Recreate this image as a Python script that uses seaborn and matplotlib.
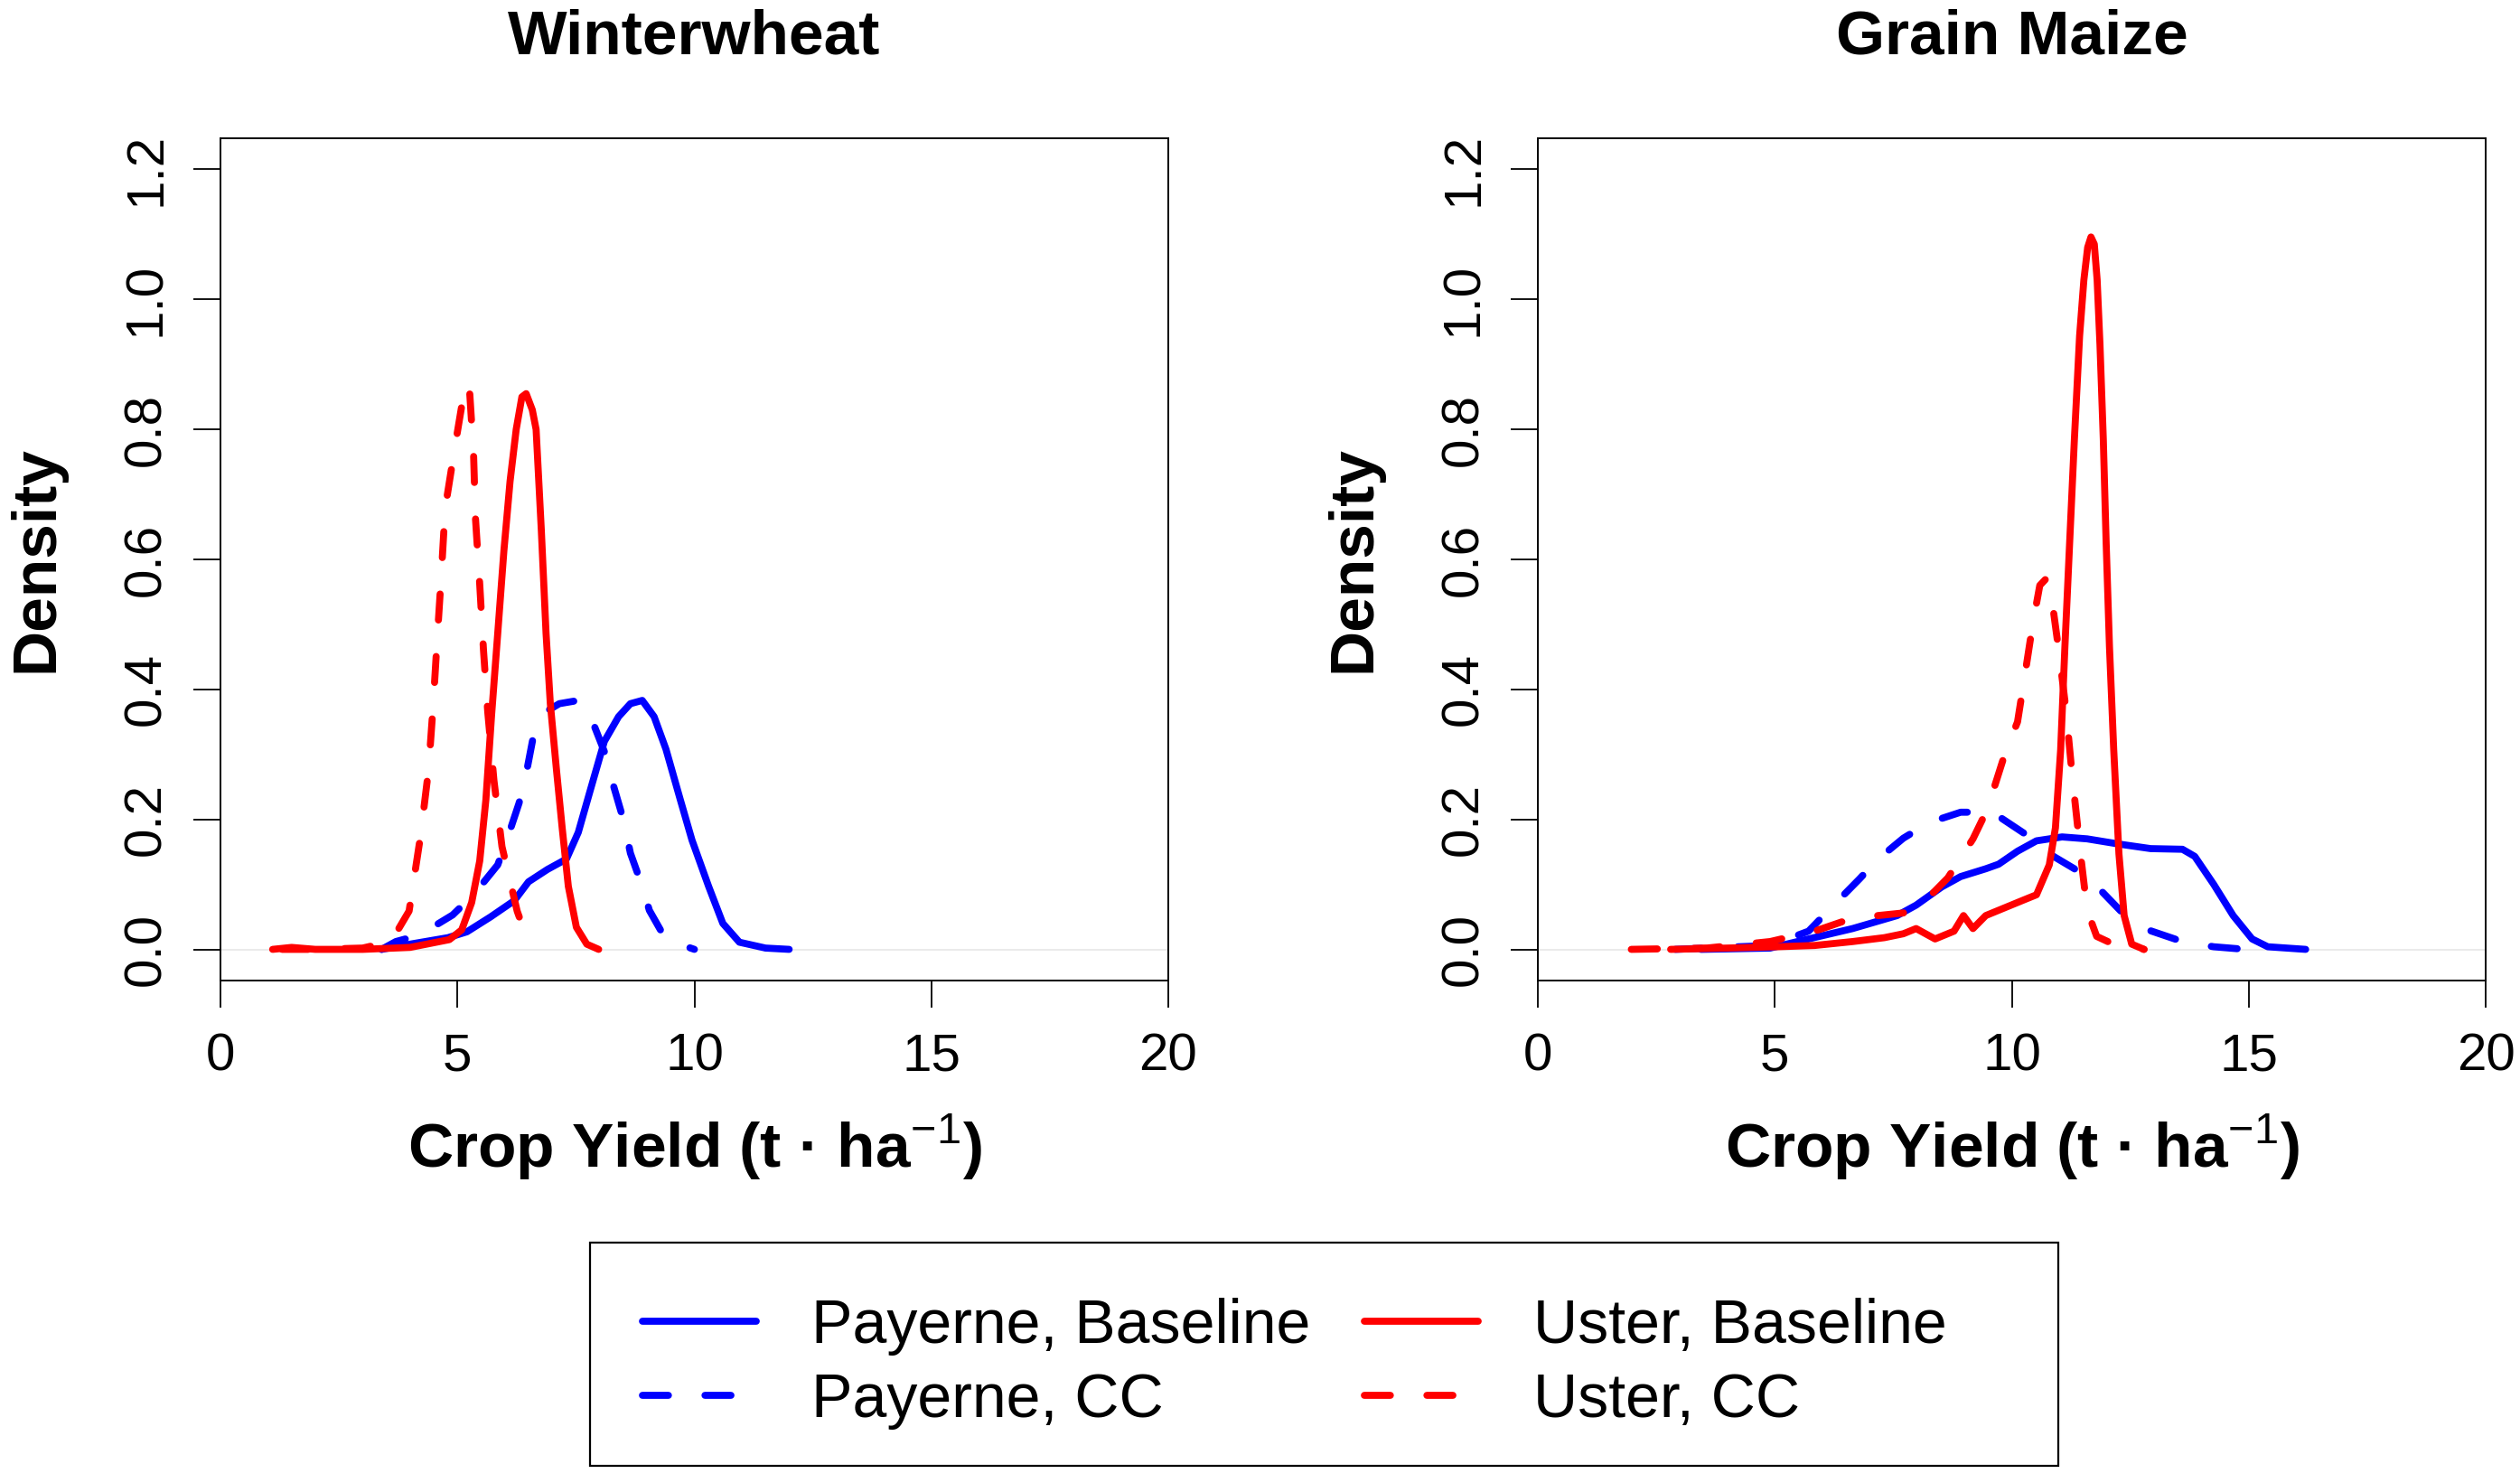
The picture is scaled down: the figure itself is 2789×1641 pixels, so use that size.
import numpy as np
import pandas as pd
import matplotlib
matplotlib.use("Agg")
import matplotlib.pyplot as plt
import seaborn as sns
from matplotlib.lines import Line2D
from matplotlib.patches import Rectangle

# Density curves (yield in t/ha, density)

# Winterwheat
ww_pay_base_x = [3.4, 4.0, 4.8, 5.2, 5.7, 6.2, 6.5, 6.9, 7.3, 7.55, 7.8, 8.1, 8.4, 8.65, 8.9,
                 9.15, 9.4, 9.7, 9.95, 10.3, 10.6, 10.95, 11.5, 12.0]
ww_pay_base_y = [0.0, 0.008, 0.018, 0.027, 0.05, 0.075, 0.104, 0.123, 0.139, 0.18, 0.244, 0.32,
                 0.358, 0.378, 0.383, 0.358, 0.308, 0.231, 0.168, 0.097, 0.04, 0.011, 0.002, 0.0]

ww_pay_cc_x = [3.4, 3.7, 4.2, 4.9, 5.35, 5.85, 6.05, 6.3, 6.45, 6.6, 6.85, 7.15, 7.55, 7.8,
               8.15, 8.3, 8.5, 8.65, 8.9, 9.05, 9.4, 10.0]
ww_pay_cc_y = [0.0, 0.012, 0.022, 0.053, 0.085, 0.13, 0.17, 0.225, 0.27, 0.327, 0.365, 0.378,
               0.383, 0.36, 0.295, 0.25, 0.2, 0.148, 0.097, 0.06, 0.015, 0.0]

ww_ust_base_x = [1.1, 1.5, 2.0, 3.0, 4.0, 4.83, 5.09, 5.3, 5.47, 5.6, 5.72, 5.85, 5.98, 6.11,
                 6.24, 6.36, 6.45, 6.58, 6.66, 6.77, 6.87, 6.96, 7.09, 7.21, 7.34, 7.51, 7.73, 7.98]
ww_ust_base_y = [0.0, 0.003, 0.0, 0.0, 0.003, 0.015, 0.03, 0.072, 0.136, 0.23, 0.36, 0.486,
                 0.613, 0.72, 0.80, 0.85, 0.855, 0.83, 0.80, 0.645, 0.486, 0.378, 0.276, 0.187,
                 0.097, 0.034, 0.008, 0.0]

ww_ust_cc_x = [1.3, 2.0, 3.0, 3.6, 3.98, 4.22, 4.39, 4.49, 4.57, 4.66, 4.74, 4.96, 5.17, 5.26,
               5.34, 5.38, 5.47, 5.55, 5.64, 5.77, 5.94, 6.26, 6.45]
ww_ust_cc_y = [0.0, 0.0, 0.002, 0.012, 0.059, 0.174, 0.276, 0.378, 0.474, 0.576, 0.678, 0.779,
               0.871, 0.855, 0.763, 0.664, 0.562, 0.46, 0.365, 0.26, 0.158, 0.059, 0.02]

# Grain Maize
gm_pay_base_x = [3.44, 4.9, 5.71, 6.64, 7.58, 7.98, 8.52, 8.92, 9.45, 9.72, 10.12, 10.52, 11.06,
                 11.59, 12.26, 12.93, 13.6, 13.86, 14.26, 14.67, 15.07, 15.4, 16.2]
gm_pay_base_y = [0.0, 0.002, 0.016, 0.032, 0.052, 0.068, 0.096, 0.112, 0.124, 0.131, 0.151,
                 0.167, 0.173, 0.17, 0.162, 0.155, 0.154, 0.143, 0.10, 0.052, 0.016, 0.004, 0.0]

gm_pay_cc_x = [2.9, 4.9, 5.71, 6.24, 6.78, 7.18, 7.71, 8.25, 8.92, 9.59, 10.25, 10.79, 11.32,
               11.86, 12.39, 12.79, 13.6, 14.26, 14.93]
gm_pay_cc_y = [0.0, 0.006, 0.028, 0.068, 0.108, 0.139, 0.171, 0.195, 0.211, 0.211, 0.179, 0.147,
               0.124, 0.092, 0.052, 0.032, 0.012, 0.004, 0.0]

gm_ust_base_x = [2.8, 4.0, 5.04, 5.84, 6.64, 7.31, 7.71, 7.98, 8.38, 8.78, 8.98, 9.18, 9.45,
                 9.85, 10.25, 10.52, 10.79, 10.92, 11.03, 11.12, 11.22, 11.32, 11.43, 11.52,
                 11.6, 11.67, 11.74, 11.8, 11.86, 11.93, 11.99, 12.06, 12.15, 12.26, 12.37,
                 12.53, 12.79]
gm_ust_base_y = [0.0, 0.002, 0.004, 0.006, 0.012, 0.018, 0.024, 0.032, 0.016, 0.028, 0.052,
                 0.032, 0.052, 0.064, 0.076, 0.084, 0.13, 0.187, 0.307, 0.466, 0.626, 0.785,
                 0.944, 1.03, 1.08, 1.096, 1.085, 1.03, 0.93, 0.785, 0.626, 0.466, 0.307,
                 0.147, 0.052, 0.008, 0.0]

gm_ust_cc_x = [1.97, 3.57, 4.9, 5.84, 6.64, 7.71, 8.11, 8.65, 9.18, 9.48, 9.85, 10.12, 10.25,
               10.44, 10.59, 10.72, 10.86, 10.99, 11.14, 11.27, 11.46, 11.59, 11.79, 12.26, 12.79]
gm_ust_cc_y = [0.0, 0.002, 0.012, 0.028, 0.048, 0.056, 0.07, 0.11, 0.17, 0.215, 0.3, 0.35,
               0.41, 0.5, 0.56, 0.57, 0.53, 0.46, 0.37, 0.27, 0.14, 0.06, 0.02, 0.004, 0.0]

crops = ["Winterwheat", "Grain Maize"]
sites = ["Payerne", "Uster"]
scenarios = ["Baseline", "CC"]

series = {
    ("Winterwheat", "Payerne", "Baseline"): (ww_pay_base_x, ww_pay_base_y),
    ("Winterwheat", "Payerne", "CC"): (ww_pay_cc_x, ww_pay_cc_y),
    ("Winterwheat", "Uster", "Baseline"): (ww_ust_base_x, ww_ust_base_y),
    ("Winterwheat", "Uster", "CC"): (ww_ust_cc_x, ww_ust_cc_y),
    ("Grain Maize", "Payerne", "Baseline"): (gm_pay_base_x, gm_pay_base_y),
    ("Grain Maize", "Payerne", "CC"): (gm_pay_cc_x, gm_pay_cc_y),
    ("Grain Maize", "Uster", "Baseline"): (gm_ust_base_x, gm_ust_base_y),
    ("Grain Maize", "Uster", "CC"): (gm_ust_cc_x, gm_ust_cc_y),
}

frames = []
for (crop, site, scen), (xs, ys) in series.items():
    frames.append(pd.DataFrame({"crop": crop, "site": site, "scenario": scen,
                                "yield": xs, "density": ys}))
df = pd.concat(frames, ignore_index=True)

sns.set_theme(style="ticks")
plt.rcParams["font.family"] = ["Liberation Sans", "DejaVu Sans"]
plt.rcParams["mathtext.fontset"] = "custom"
plt.rcParams["mathtext.rm"] = "Liberation Sans"
plt.rcParams["mathtext.bf"] = "Liberation Sans:bold"
plt.rcParams["text.color"] = "black"
plt.rcParams["axes.labelcolor"] = "black"
plt.rcParams["xtick.color"] = "black"
plt.rcParams["ytick.color"] = "black"

palette = {"Payerne": "#0000ff", "Uster": "#ff0000"}
dash_cc = (3.7, 5.2)
dashes = {"Baseline": "", "CC": dash_cc}
lw = 5.6

fig = plt.figure(figsize=(27.89, 16.41), dpi=100)
ax_w, ax_h, ax_b = 0.3761, 0.5680, 0.3388
axes = [fig.add_axes([0.0875, ax_b, ax_w, ax_h]),
        fig.add_axes([0.6103, ax_b, ax_w, ax_h])]

for ax, crop in zip(axes, crops):
    ax.axhline(0, color="#e6e6e6", lw=1.2, zorder=0.5)
    sns.lineplot(data=df[df["crop"] == crop], x="yield", y="density",
                 hue="site", style="scenario", hue_order=sites, style_order=scenarios,
                 palette=palette, dashes=dashes, linewidth=lw,
                 estimator=None, sort=False, legend=False, ax=ax,
                 solid_capstyle="round", dash_capstyle="round",
                 solid_joinstyle="round")

    ax.set_xlim(0, 20)
    ax.set_ylim(-0.048, 1.248)
    ax.set_xticks([0, 5, 10, 15, 20])
    ax.set_yticks([0.0, 0.2, 0.4, 0.6, 0.8, 1.0, 1.2])
    ax.set_yticklabels(["0.0", "0.2", "0.4", "0.6", "0.8", "1.0", "1.2"])
    ax.tick_params(axis="both", direction="out", length=21.6, width=1.3,
                   labelsize=42, colors="black")
    ax.tick_params(axis="x", pad=20)
    ax.tick_params(axis="y", pad=18, labelrotation=90)
    for lab in ax.get_yticklabels():
        lab.set_va("center")
    for sp in ax.spines.values():
        sp.set_visible(True)
        sp.set_color("black")
        sp.set_linewidth(1.4)

    ax.set_title(crop, fontsize=50, fontweight="bold", y=1.0998, pad=0, color="black")

    ax.set_xlabel("Crop Yield (t · ha" + r"$^{\mathrm{-1}}$" + ")",
                  fontsize=50, fontweight="bold")
    ax.xaxis.label.set_va("baseline")
    ax.xaxis.set_label_coords(0.5, -0.222)
    ax.set_ylabel("Density", fontsize=50, fontweight="bold")
    ax.yaxis.label.set_va("baseline")
    ax.yaxis.set_label_coords(-0.1773, 0.5)

handles = []
labels = []
for site in sites:
    for scen in scenarios:
        h = Line2D([0], [0], color=palette[site], lw=lw,
                   solid_capstyle="round", dash_capstyle="round")
        if scen == "CC":
            h.set_dashes(dash_cc)
        handles.append(h)
        labels.append(f"{site}, {scen}")

fig.legend(handles, labels, loc="center left", bbox_to_anchor=(711 / 2789, 1 - 1509 / 1641),
           ncol=2, frameon=False, fontsize=49, handlelength=1.85, handletextpad=0.9,
           columnspacing=0.87, labelspacing=0.27, borderpad=0, borderaxespad=0)

fig.add_artist(Rectangle((653 / 2789, 1 - 1622 / 1641), (2278 - 653) / 2789, (1622 - 1375) / 1641,
                         transform=fig.transFigure, fill=False, ec="black", lw=1.6))

fig.savefig("out.png", dpi=100, facecolor="white")
